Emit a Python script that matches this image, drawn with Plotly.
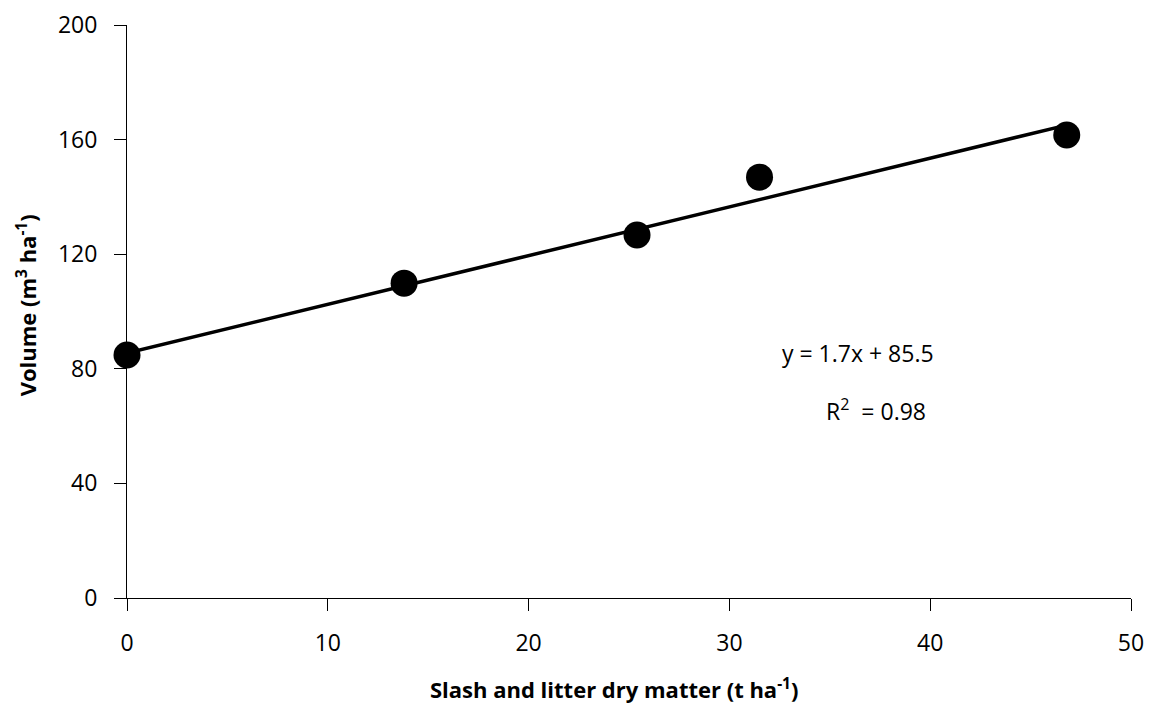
import plotly.graph_objects as go

# Data
dry_matter = [0.0, 13.8, 25.4, 31.5, 46.8]       # t ha-1
volume = [84.8, 109.9, 126.7, 146.9, 161.6]      # m3 ha-1
slope = 1.7
intercept = 85.5
r_squared = 0.98
x_ticks = [0, 10, 20, 30, 40, 50]
y_ticks = [0, 40, 80, 120, 160, 200]

FONT = "Open Sans"

fit_x = [min(dry_matter), max(dry_matter)]
fit_y = [slope * v + intercept for v in fit_x]

fig = go.Figure()
fig.add_trace(go.Scatter(
    x=fit_x, y=fit_y, mode="lines",
    line=dict(color="black", width=3.5),
    cliponaxis=False, showlegend=False, hoverinfo="skip"))
fig.add_trace(go.Scatter(
    x=dry_matter, y=volume, mode="markers",
    marker=dict(color="black", size=27, line=dict(width=0)),
    cliponaxis=False, showlegend=False))

fig.add_annotation(x=36.4, y=intercept, xref="x", yref="y",
                   text=f"y = {slope}x + {intercept}", showarrow=False,
                   font=dict(family=FONT, size=23, color="black"))
fig.add_annotation(x=37.3, y=65.6, xref="x", yref="y",
                   text=f"R<sup>2</sup>  = {r_squared}", showarrow=False,
                   font=dict(family=FONT, size=23, color="black"))

fig.add_annotation(x=-0.1, y=0.51, xref="paper", yref="paper",
                   text="<b>Volume (m<sup>3</sup> ha<sup>-1</sup>)</b>",
                   textangle=-90, showarrow=False,
                   xanchor="center", yanchor="middle",
                   font=dict(family=FONT, size=22, color="black"))
fig.add_annotation(x=0.485, y=-0.158, xref="paper", yref="paper",
                   text="<b>Slash and litter dry matter (t ha<sup>-1</sup>)</b>",
                   showarrow=False, xanchor="center", yanchor="middle",
                   font=dict(family=FONT, size=22, color="black"))

axis_common = dict(
    showline=True, linecolor="black", linewidth=1,
    ticks="outside", ticklen=12, tickcolor="black", tickwidth=1,
    showgrid=False, zeroline=False, layer="below traces",
    tickfont=dict(family=FONT, size=23, color="black"),
    ticklabelstandoff=12,
    ticklabeloverflow="allow",
)

fig.update_xaxes(range=[0, 50], tickvals=x_ticks, **axis_common)
fig.update_yaxes(range=[0, 200], tickvals=y_ticks, **axis_common)

fig.update_layout(
    width=1151, height=705,
    margin=dict(l=127, r=7, t=25, b=107),
    paper_bgcolor="white", plot_bgcolor="white",
    font=dict(family=FONT, color="black"),
)

# remove the default page margin so the figure fills the window exactly
fig.write_html("out.html",
               config={"displayModeBar": False},
               post_script="document.body.style.margin='0';"
                           "document.body.style.overflow='hidden';")
